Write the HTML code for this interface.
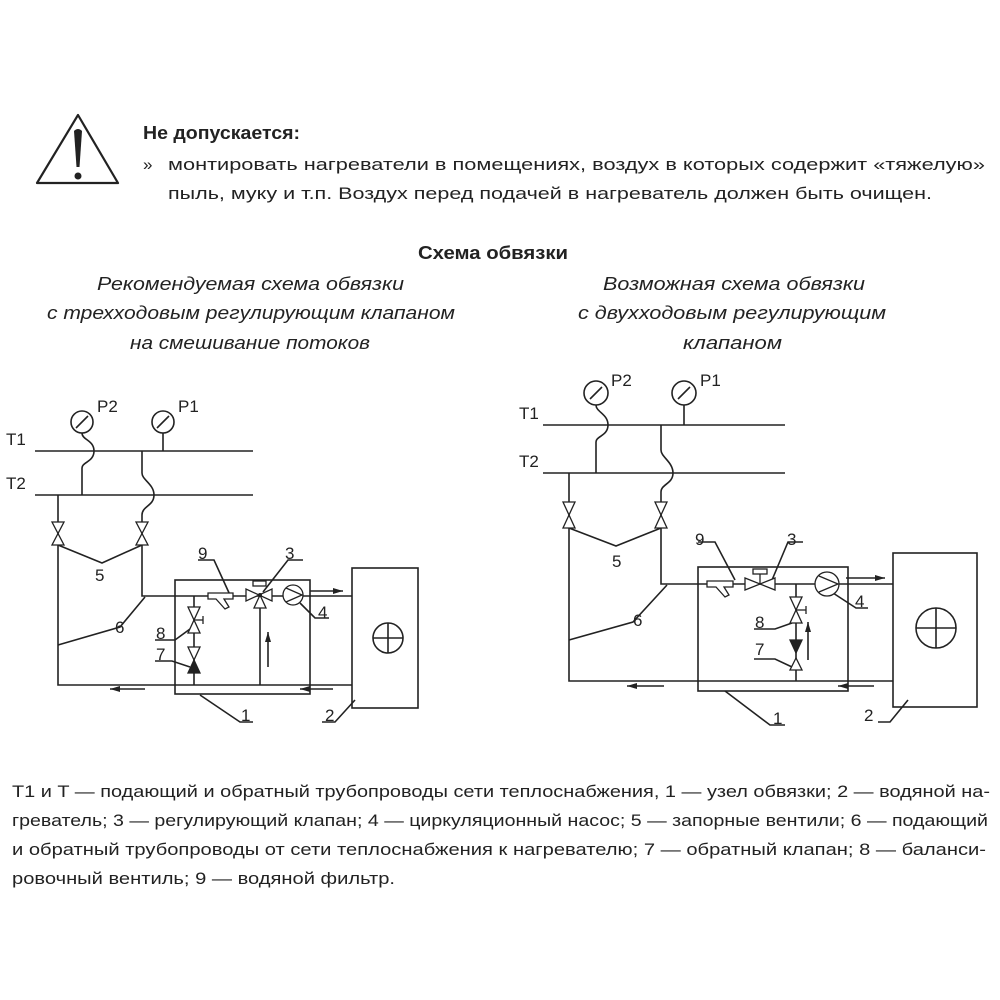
<!DOCTYPE html>
<html><head><meta charset="utf-8"><style>
html,body{margin:0;padding:0;background:#fff;}
svg{display:block;}
text{font-family:"Liberation Sans",sans-serif;fill:#222;}
</style></head><body>
<svg width="1000" height="1000" viewBox="0 0 1000 1000" xmlns="http://www.w3.org/2000/svg">
<defs>
<marker id="ah" viewBox="0 0 10 6" refX="10" refY="3" markerWidth="10" markerHeight="6" orient="auto" markerUnits="userSpaceOnUse"><path d="M0,0 L10,3 L0,6 Z" fill="#222"/></marker>
</defs>
<!-- warning -->
<path d="M78,115 L118,183 L37,183 Z" fill="none" stroke="#222" stroke-width="2.2" stroke-linejoin="round"/>
<path d="M74,131 Q78,127 82,131 L79.5,167 L76.5,167 Z" fill="#222"/>
<circle cx="78" cy="176" r="3.5" fill="#222"/>
<text x="143" y="139" font-size="18" font-weight="bold" textLength="157" lengthAdjust="spacingAndGlyphs">Не допускается:</text>
<text x="143" y="170" font-size="17">»</text>
<text x="168" y="170" font-size="17" textLength="817" lengthAdjust="spacingAndGlyphs">монтировать нагреватели в помещениях, воздух в которых содержит «тяжелую»</text>
<text x="168" y="199" font-size="17" textLength="764" lengthAdjust="spacingAndGlyphs">пыль, муку и т.п. Воздух перед подачей в нагреватель должен быть очищен.</text>
<!-- titles -->
<text x="418" y="259" font-size="18" font-weight="bold" textLength="150" lengthAdjust="spacingAndGlyphs">Схема обвязки</text>
<g font-size="18" font-style="italic">
<text x="97" y="290" textLength="307" lengthAdjust="spacingAndGlyphs">Рекомендуемая схема обвязки</text>
<text x="47" y="319" textLength="408" lengthAdjust="spacingAndGlyphs">с трехходовым регулирующим клапаном</text>
<text x="130" y="349" textLength="240" lengthAdjust="spacingAndGlyphs">на смешивание потоков</text>
<text x="603" y="290" textLength="262" lengthAdjust="spacingAndGlyphs">Возможная схема обвязки</text>
<text x="578" y="319" textLength="308" lengthAdjust="spacingAndGlyphs">с двухходовым регулирующим</text>
<text x="683" y="349" textLength="99" lengthAdjust="spacingAndGlyphs">клапаном</text>
</g>

<!-- LEFT DIAGRAM -->
<g stroke="#222" stroke-width="1.6" fill="none">
<line x1="35" y1="451" x2="253" y2="451"/>
<line x1="35" y1="495" x2="253" y2="495"/>
<circle cx="82" cy="422" r="11"/><line x1="76" y1="428" x2="88" y2="416"/>
<circle cx="163" cy="422" r="11"/><line x1="157" y1="428" x2="169" y2="416"/>
<line x1="163" y1="433" x2="163" y2="451"/>
<path d="M82,433 C82,440 94,440 94,451 C94,462 82,462 82,468 L82,495"/>
<path d="M142,451 L142,473 C142,480 154,484 154,495 C154,506 142,506 142,515"/>
<path d="M142,515 L142,596 L352,596"/>
<path d="M58,495 L58,685 L352,685"/>
<rect x="175" y="580" width="135" height="114"/>
<rect x="352" y="568" width="66" height="140"/>
<circle cx="388" cy="638" r="15"/>
<line x1="373" y1="638" x2="403" y2="638"/><line x1="388" y1="623" x2="388" y2="653"/>
<line x1="194" y1="596" x2="194" y2="685"/>
<line x1="260" y1="602" x2="260" y2="685"/>
<line x1="268" y1="667" x2="268" y2="632" marker-end="url(#ah)"/>
<line x1="145" y1="689" x2="110" y2="689" marker-end="url(#ah)"/>
<line x1="333" y1="689" x2="300" y2="689" marker-end="url(#ah)"/>
<line x1="310" y1="591" x2="343" y2="591" marker-end="url(#ah)"/>
<polyline points="58,545 102,563 142,545"/>
<polyline points="58,645 120,627 145,597"/>
<polyline points="198,560 214,560 230,595"/>
<polyline points="303,560 288,560 263,592"/>
<polyline points="329,618 315,618 300,603"/>
<polyline points="155,640 175,640 190,629"/>
<polyline points="155,661 172,661 190,667"/>
<polyline points="253,722 240,722 200,695"/>
<polyline points="322,722 335,722 355,700"/>
</g>
<g stroke="#222" stroke-width="1.3" fill="#fff">
<path d="M52,522 L64,522 L52,545 L64,545 Z"/>
<path d="M136,522 L148,522 L136,545 L148,545 Z"/>
<path d="M188,607 L200,607 L188,633 L200,633 Z"/><line x1="194" y1="620" x2="203" y2="620"/><line x1="203" y1="616" x2="203" y2="624"/>
<path d="M188,647 L200,647 L194,660 Z"/>
<path d="M194,660 L188,673 L200,673 Z" fill="#222"/>
<path d="M208,593 L233,593 L233,599 L224,599 L229,607 L225,609 L216,599 L208,599 Z"/>
<path d="M246,589 L246,601 L272,589 L272,601 Z"/>
<path d="M254,608 L266,608 L260,595 Z"/>
<rect x="253" y="581" width="13" height="5"/>
<circle cx="293" cy="595" r="10"/><path d="M286,588 L302,595 L286,602" fill="none"/>
</g>
<circle cx="260" cy="595" r="2" fill="#222"/>
<g font-size="17">
<text x="6" y="445">T1</text><text x="6" y="489">T2</text>
<text x="97" y="412">P2</text><text x="178" y="412">P1</text>
<text x="95" y="581">5</text><text x="115" y="633">6</text>
<text x="198" y="559">9</text><text x="285" y="559">3</text>
<text x="318" y="618">4</text>
<text x="156" y="639">8</text><text x="156" y="660">7</text>
<text x="241" y="721">1</text><text x="325" y="721">2</text>
</g>

<!-- RIGHT DIAGRAM -->
<g stroke="#222" stroke-width="1.6" fill="none">
<line x1="543" y1="425" x2="785" y2="425"/>
<line x1="543" y1="473" x2="785" y2="473"/>
<circle cx="596" cy="393" r="12"/><line x1="590" y1="399" x2="602" y2="387"/>
<circle cx="684" cy="393" r="12"/><line x1="678" y1="399" x2="690" y2="387"/>
<line x1="684" y1="405" x2="684" y2="425"/>
<path d="M596,405 C596,412 608,414 608,425 C608,436 596,436 596,442 L596,473"/>
<path d="M661,425 L661,450 C661,457 673,462 673,473 C673,484 661,484 661,492"/>
<path d="M661,492 L661,584 L893,584"/>
<path d="M569,473 L569,681 L893,681"/>
<rect x="698" y="567" width="150" height="124"/>
<rect x="893" y="553" width="84" height="154"/>
<circle cx="936" cy="628" r="20"/>
<line x1="916" y1="628" x2="956" y2="628"/><line x1="936" y1="608" x2="936" y2="648"/>
<line x1="796" y1="584" x2="796" y2="681"/>
<line x1="808" y1="660" x2="808" y2="622" marker-end="url(#ah)"/>
<line x1="664" y1="686" x2="627" y2="686" marker-end="url(#ah)"/>
<line x1="874" y1="686" x2="838" y2="686" marker-end="url(#ah)"/>
<line x1="846" y1="578" x2="885" y2="578" marker-end="url(#ah)"/>
<polyline points="569,528 616,546 661,528"/>
<polyline points="569,640 633,622 667,585"/>
<polyline points="698,542 715,542 735,580"/>
<polyline points="803,542 788,542 772,580"/>
<polyline points="868,608 856,608 833,593"/>
<polyline points="754,629 775,629 792,623"/>
<polyline points="754,659 775,659 792,667"/>
<polyline points="785,725 770,725 725,691"/>
<polyline points="878,722 890,722 908,700"/>
</g>
<g stroke="#222" stroke-width="1.3" fill="#fff">
<path d="M563,502 L575,502 L563,528 L575,528 Z"/>
<path d="M655,502 L667,502 L655,528 L667,528 Z"/>
<path d="M790,597 L802,597 L790,623 L802,623 Z"/><line x1="796" y1="610" x2="806" y2="610"/><line x1="806" y1="606" x2="806" y2="614"/>
<path d="M790,640 L802,640 L796,653 Z" fill="#222"/>
<path d="M796,658 L790,670 L802,670 Z"/>
<path d="M707,581 L733,581 L733,587 L724,587 L729,595 L725,597 L716,587 L707,587 Z"/>
<path d="M745,578 L745,590 L775,578 L775,590 Z"/>
<rect x="753" y="569" width="14" height="5"/>
<line x1="760" y1="574" x2="760" y2="584"/>
<circle cx="827" cy="584" r="12"/><path d="M819,576 L838,584 L819,592" fill="none"/>
</g>
<g font-size="17">
<text x="519" y="419">T1</text><text x="519" y="467">T2</text>
<text x="611" y="386">P2</text><text x="700" y="386">P1</text>
<text x="612" y="567">5</text><text x="633" y="626">6</text>
<text x="695" y="545">9</text><text x="787" y="545">3</text>
<text x="855" y="607">4</text>
<text x="755" y="628">8</text><text x="755" y="655">7</text>
<text x="773" y="724">1</text><text x="864" y="721">2</text>
</g>

<!-- legend -->
<g font-size="17">
<text x="12" y="797" textLength="978" lengthAdjust="spacingAndGlyphs">T1 и T   — подающий и обратный трубопроводы сети теплоснабжения, 1 — узел обвязки; 2 — водяной на-</text>
<text x="12" y="826" textLength="976" lengthAdjust="spacingAndGlyphs">греватель; 3 — регулирующий клапан; 4 — циркуляционный насос; 5 — запорные вентили; 6 — подающий</text>
<text x="12" y="855" textLength="974" lengthAdjust="spacingAndGlyphs">и обратный трубопроводы от сети теплоснабжения к нагревателю; 7 — обратный клапан; 8 — баланси-</text>
<text x="12" y="884" textLength="383" lengthAdjust="spacingAndGlyphs">ровочный вентиль; 9 — водяной фильтр.</text>
</g>
</svg>
</body></html>
